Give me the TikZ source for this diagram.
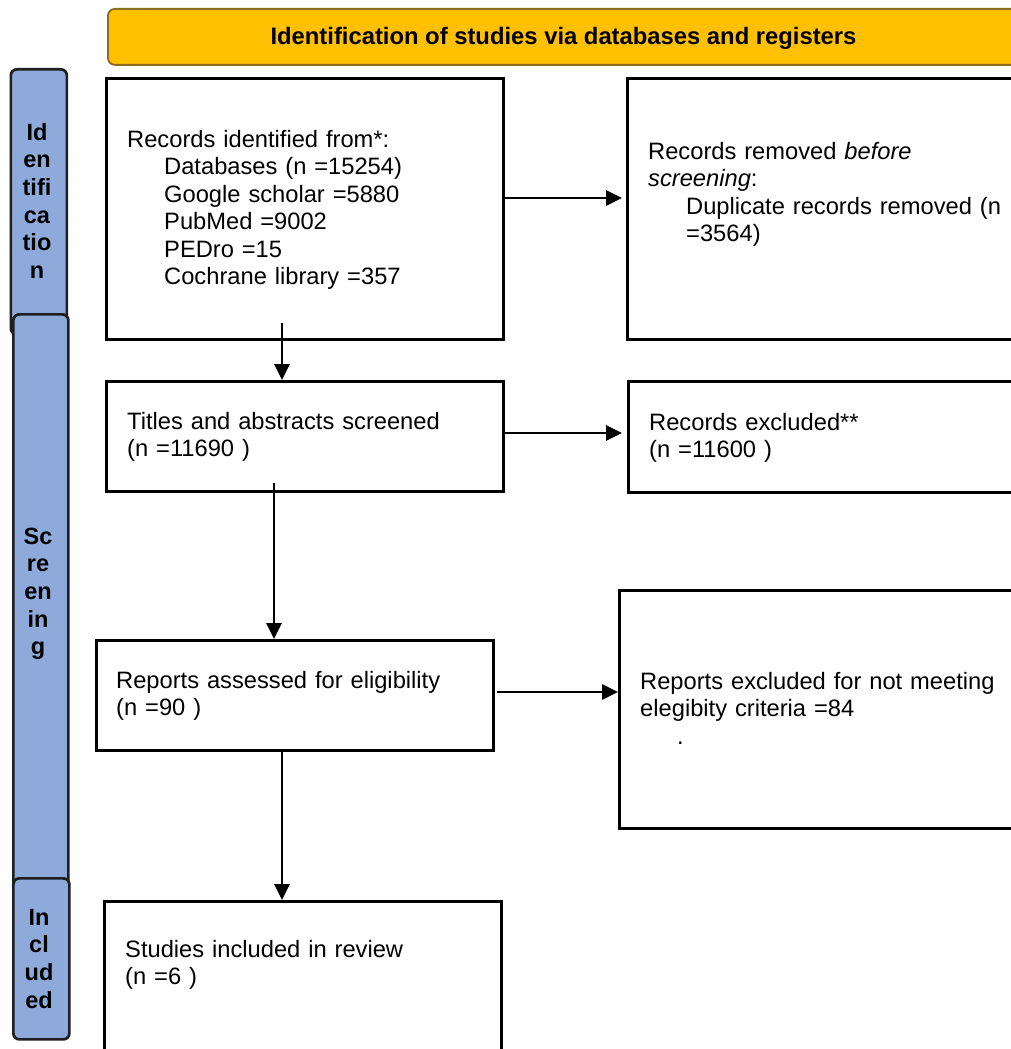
\documentclass[tikz,border=0pt]{standalone}
\usepackage{fontspec}
\setmainfont{Liberation Sans}
\usetikzlibrary{arrows.meta}
\definecolor{bannerfill}{HTML}{FFC000}
\definecolor{bannerdraw}{HTML}{8C6D1F}
\definecolor{barfill}{HTML}{8EAADB}
\tikzset{
  txt/.style={font=\fontsize{23.7}{27.5}\selectfont, inner sep=0pt, anchor=north west, align=left, text width=380pt, execute at begin node={\rule{0pt}{18pt}}},
  bartxt/.style={font=\fontsize{23.5}{27.6}\selectfont\bfseries, inner sep=0pt, anchor=north, align=center, text width=56pt, execute at begin node={\rule{0pt}{17pt}}},
  flowbox/.style={draw, line width=2.7pt, rectangle, anchor=north west, inner sep=0pt},
  sidebar/.style={draw=black!88, line width=2.7pt, fill=barfill, rounded corners=6pt, rectangle, anchor=north west, inner sep=0pt},
  arr/.style={line width=2.7pt, -{Triangle[length=16pt,width=15pt]}},
}
\begin{document}
\begin{tikzpicture}[x=1pt,y=-1pt]
\useasboundingbox (0,0) rectangle (1011,1049);
\clip (0,0) rectangle (1011,1049);
\fill[white] (0,0) rectangle (1011,1049);

% banner
\node[draw=bannerdraw, line width=1.8pt, fill=bannerfill, rounded corners=7pt, anchor=north west, inner sep=0pt, minimum width=930pt, minimum height=56pt] (banner) at (107,8) {};
\node[font=\fontsize{23.8}{28}\selectfont\bfseries, inner sep=0pt, anchor=base] (bannertxt) at (563.5,45) {Identification of studies via databases and registers};

% side bars
\node[sidebar, minimum width=56pt, minimum height=265pt] (barid) at (9.5,68) {};
\node[sidebar, minimum width=55pt, minimum height=580pt] (barsc) at (12,313) {};
\node[sidebar, minimum width=56pt, minimum height=161pt] (barin) at (12,877) {};
\node[bartxt] (baridt) at (37,123) {Id\\en\\tifi\\ca\\tio\\n};
\node[bartxt] (barsct) at (38,527) {Sc\\re\\en\\in\\g};
\node[bartxt] (barint) at (39,908) {In\\cl\\ud\\ed};

% boxes
\node[flowbox, minimum width=397pt, minimum height=261pt] (b1) at (105,77) {};
\node[flowbox, minimum width=420pt, minimum height=261pt] (b2) at (626,77) {};
\node[flowbox, minimum width=397pt, minimum height=110pt] (b3) at (105,380) {};
\node[flowbox, minimum width=420pt, minimum height=111pt] (b4) at (627,380) {};
\node[flowbox, minimum width=397pt, minimum height=110pt] (b5) at (95,639) {};
\node[flowbox, minimum width=420pt, minimum height=238pt] (b6) at (618,589) {};
\node[flowbox, minimum width=397pt, minimum height=200pt] (b7) at (103,900) {};

% texts
\node[txt] (t1) at (127,129) {Records identified from*:\\
\hspace*{37pt}Databases (n =15254)\\
\hspace*{37pt}Google scholar =5880\\
\hspace*{37pt}PubMed =9002\\
\hspace*{37pt}PEDro =15\\
\hspace*{37pt}Cochrane library =357};
\node[txt] (t2) at (648,141) {Records removed \textit{before}\\
\textit{screening}:\\
\hspace*{38pt}Duplicate records removed (n\\
\hspace*{38pt}=3564)};
\node[txt] (t3) at (127,411) {Titles and abstracts screened\\(n =11690 )};
\node[txt] (t4) at (649,412) {Records excluded**\\(n =11600 )};
\node[txt] (t5) at (116,670) {Reports assessed for eligibility\\(n =90 )};
\node[txt] (t6) at (640,671) {Reports excluded for not meeting\\elegibity criteria =84\\\hspace*{37pt}.};
\node[txt] (t7) at (125,939) {Studies included in review\\(n =6 )};

% connectors
\coordinate (s2) at (282,323);
\coordinate (s4) at (274,483);
\coordinate (s5) at (497,692);
\draw[arr] (b1.east |- 0,198) -- ([xshift=-4pt]b2.west |- 0,198);
\draw[arr] (s2) -- (s2 |- b3.north);
\draw[arr] (b3.east |- 0,433) -- ([xshift=-5pt]b4.west |- 0,433);
\draw[arr] (s4) -- (s4 |- b5.north);
\draw[arr] (s5) -- (b6.west |- s5);
\draw[arr] (b5.south -| 282,0) -- (b7.north -| 282,0);
\end{tikzpicture}
\end{document}
